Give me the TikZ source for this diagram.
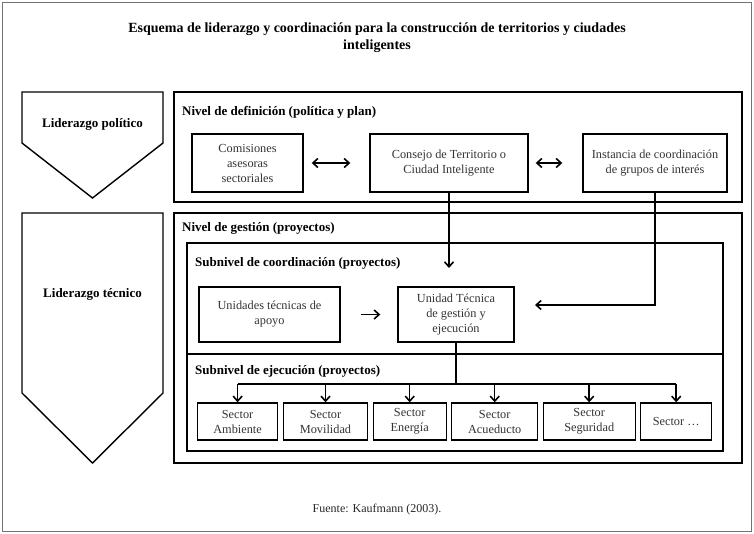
\documentclass[tikz,border=0pt]{standalone}
\usepackage{fontspec}
\setmainfont{Liberation Serif}
\usetikzlibrary{arrows.meta,calc}
\begin{document}
\begin{tikzpicture}[x=1pt,y=-1pt,
  frame/.style={draw=black!55,line width=0.8pt},
  panel/.style={draw,line width=1.4pt},
  box/.style={draw,line width=1.4pt,align=center,inner sep=2pt,text=black!80,
     font=\fontsize{12.3}{15}\selectfont},
  lbl/.style={anchor=west,inner sep=0pt,font=\fontsize{13}{15}\selectfont\bfseries},
  lead/.style={inner sep=0pt,font=\fontsize{13}{15}\selectfont\bfseries},
  arr/.style={-{Straight Barb[length=5pt,width=9pt,line width=1.6pt]},line width=1.5pt},
  biarr/.style={{Straight Barb[length=5pt,width=9pt,line width=1.6pt]}-{Straight Barb[length=5pt,width=9pt,line width=1.6pt]},line width=1.5pt},
  conn/.style={line width=1.4pt}]
\useasboundingbox (0,0) rectangle (754,533);
\draw[frame] (2,2) rectangle (751,531);
% title
\node[align=center,font=\fontsize{14}{17}\selectfont\bfseries] (title) at (377,38)
  {Esquema de liderazgo y coordinación para la construcción de territorios y ciudades\\inteligentes};
% leadership pentagons
\draw[panel] (22,92) -- (163,92) -- (163,143) -- (92.5,198) -- (22,143) -- cycle;
\node[lead] (lpol) at (92.5,124) {Liderazgo político};
\draw[panel] (22,213) -- (163,213) -- (163,393) -- (92.5,463) -- (22,393) -- cycle;
\node[lead] (ltec) at (92.5,294) {Liderazgo técnico};
% definition level
\draw[panel] (174,92) rectangle (742,202);
\node[lbl] (ldef) at (182,112) {Nivel de definición (política y plan)};
\node[box,minimum width=111pt,minimum height=58pt] (com) at (247.5,163) {Comisiones\\asesoras\\sectoriales};
\node[box,minimum width=158pt,minimum height=58pt] (con) at (449,163) {Consejo de Territorio o\\Ciudad Inteligente};
\node[box,minimum width=144pt,minimum height=58pt] (ins) at (655,163) {Instancia de coordinación\\de grupos de interés};
\draw[biarr,shorten <=8pt,shorten >=19pt] (com) -- (con);
\draw[biarr,shorten <=7pt,shorten >=20pt] (con) -- (ins);
% management level
\draw[panel] (174,213) rectangle (742,463);
\node[lbl] (lges) at (182,228) {Nivel de gestión (proyectos)};
\draw[panel] (187,243) rectangle (723,354);
\node[lbl] (lcoo) at (195,263) {Subnivel de coordinación (proyectos)};
\draw[panel] (187,354) rectangle (723,451);
\node[lbl] (leje) at (195,371) {Subnivel de ejecución (proyectos)};
\node[box,minimum width=141pt,minimum height=55pt] (uta) at (269.5,314.5) {Unidades técnicas de\\apoyo};
\node[box,minimum width=116pt,minimum height=55pt] (ut) at (456,314.5) {Unidad Técnica\\de gestión y\\ejecución};
\draw[arr,shorten <=20pt,shorten >=17pt] (uta) -- (ut);
\coordinate (conend) at (449,268);
\draw[arr] (con.south) -- (conend);
\coordinate (insend) at (535,305);
\draw[arr] (ins.south) |- (insend);
% sectors
\node[box,minimum width=80pt,minimum height=37pt] (s1) at (237.6,421.5) {Sector\\Ambiente};
\node[box,minimum width=84pt,minimum height=37pt] (s2) at (325.5,421.5) {Sector\\Movilidad};
\node[box,minimum width=73pt,minimum height=37pt] (s3) at (409.7,421.5) {Sector\\Energía};
\node[box,minimum width=86pt,minimum height=37pt] (s4) at (494.7,421.5) {Sector\\Acueducto};
\node[box,minimum width=92pt,minimum height=37pt] (s5) at (589.2,421.5) {Sector\\Seguridad};
\node[box,minimum width=71pt,minimum height=37pt] (s6) at (676.2,421.5) {Sector …};
\coordinate (bus) at (0,384);
\draw[conn] (ut.south) -- (ut.south |- bus);
\draw[conn] (s1.north |- bus) -- (s6.north |- bus);
\foreach \i in {1,...,6} {\draw[arr] (s\i.north |- bus) -- (s\i.north);}
% source
\node[font=\fontsize{12}{14}\selectfont,text=black!85] (src) at (377,510) {Fuente: Kaufmann (2003).};
\end{tikzpicture}
\end{document}
